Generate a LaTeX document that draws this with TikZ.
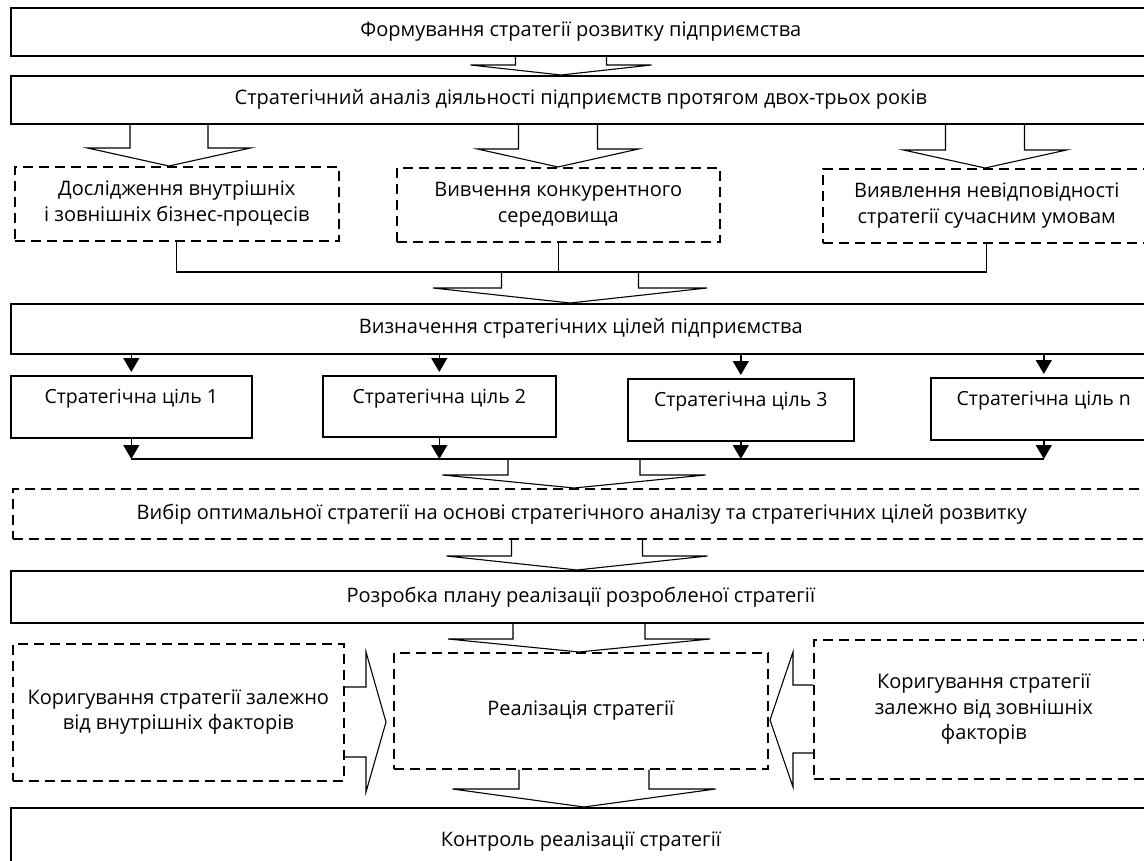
\documentclass[tikz,border=0pt]{standalone}
\usepackage{fontspec}
\setmainfont{Open Sans}
\usepackage{tikz}
\usetikzlibrary{positioning, arrows.meta, calc}

% hollow block arrow going down from #1 to #2
% #3 centre x, #4 half shaft, #5 half head, #6 head length
\newcommand{\fatarrow}[6]{%
  \draw[fatline] let \p1=(#1), \p2=(#2) in
    (#3pt-#4pt,\y1) -- (#3pt-#4pt,\y2+#6pt) -- (#3pt-#5pt,\y2+#6pt) -- (#3pt,\y2)
    -- (#3pt+#5pt,\y2+#6pt) -- (#3pt+#4pt,\y2+#6pt) -- (#3pt+#4pt,\y1);}

\begin{document}
\begin{tikzpicture}[x=1pt, y=-1pt,
    solidbox/.style={draw, line width=1.6pt, anchor=north west, inner sep=0pt, align=center,
      font=\fontsize{20}{25.5}\selectfont},
    dashbox/.style={solidbox, line width=1.6pt, dash pattern=on 10pt off 6pt},
    goalbox/.style={solidbox, font=\fontsize{19.5}{24}\selectfont, text height=14pt, text depth=20pt},
    fatline/.style={line width=1.1pt, line join=miter},
    joinline/.style={line width=1.3pt},
    thinarrow/.style={line width=1.4pt, -{Triangle[width=16pt, length=14pt]}}]
    \useasboundingbox (0,0) rectangle (1144,861);
    \clip (0,0) rectangle (1144,861);

    \node[solidbox, minimum width=1140pt, minimum height=48pt] (form) at (10,7) {Формування стратегії розвитку підприємства};
    \node[solidbox, minimum width=1140pt, minimum height=48pt] (anal) at (10,75) {Стратегічний аналіз діяльності підприємств протягом двох-трьох років};

    \node[dashbox, minimum width=324pt, minimum height=74pt] (study) at (14,166) {Дослідження внутрішніх\\і зовнішніх бізнес-процесів};
    \node[dashbox, minimum width=323pt, minimum height=74pt] (compet) at (396,167) {Вивчення конкурентного\\середовища};
    \node[dashbox, minimum width=328pt, minimum height=74pt] (mismatch) at (822,168) {Виявлення невідповідності\\стратегії сучасним умовам};

    \node[solidbox, minimum width=1140pt, minimum height=50pt] (goals) at (10,303) {Визначення стратегічних цілей підприємства};

    \node[goalbox, minimum width=241pt, minimum height=62pt] (goal-1) at (10,375) {Стратегічна ціль 1};
    \node[goalbox, minimum width=233pt, minimum height=61pt] (goal-2) at (322,375) {Стратегічна ціль 2};
    \node[goalbox, minimum width=226pt, minimum height=62pt] (goal-3) at (627,378) {Стратегічна ціль 3};
    \node[goalbox, minimum width=226pt, minimum height=62pt] (goal-n) at (930,377) {Стратегічна ціль n};

    \node[dashbox, minimum width=1138pt, minimum height=50pt] (choice) at (12,488) {Вибір оптимальної стратегії на основі стратегічного аналізу та стратегічних цілей розвитку};
    \node[solidbox, minimum width=1140pt, minimum height=52pt] (plan) at (10,570) {Розробка плану реалізації розробленої стратегії};

    \node[dashbox, minimum width=331pt, minimum height=137pt] (inner-fix) at (12,643) {Коригування стратегії залежно\\від внутрішніх факторів};
    \node[dashbox, minimum width=374pt, minimum height=116pt] (realise) at (393,652) {Реалізація стратегії};
    \node[dashbox, minimum width=340pt, minimum height=139pt] (outer-fix) at (813,639) {Коригування стратегії\\залежно від зовнішніх\\факторів};

    \node[solidbox, minimum width=1140pt, minimum height=68pt] (control) at (10,807) {Контроль реалізації стратегії};

    % block arrows
    \fatarrow{form.south}{anal.north}{561}{45.5}{90.5}{10}
    \fatarrow{anal.south}{study.north}{169}{39}{81.5}{18}
    \fatarrow{anal.south}{compet.north}{558}{39.5}{80.5}{18}
    \fatarrow{anal.south}{mismatch.north}{985}{39.5}{81.5}{18}

    \coordinate (join-a) at (study.south |- 0,272);
    \coordinate (join-c) at (mismatch.south |- 0,272);
    \draw[joinline] (study.south) -- (join-a) -- (join-c) -- (mismatch.south);
    \draw[joinline] (compet.south) -- (compet.south |- join-a);
    \fatarrow{join-a}{goals.north}{570}{68.5}{137}{15}

    \draw[thinarrow] (goals.south -| goal-1.north) -- ([yshift=3pt]goal-1.north);
    \draw[thinarrow] (goals.south -| goal-2.north) -- ([yshift=3pt]goal-2.north);
    \draw[thinarrow] (goals.south -| goal-3.north) -- ([yshift=3pt]goal-3.north);
    \draw[thinarrow] (goals.south -| goal-n.north) -- ([yshift=3pt]goal-n.north);

    \coordinate (sum-1) at (goal-1.south |- 0,459);
    \coordinate (sum-n) at (goal-n.south |- 0,459);
    \draw[thinarrow] (goal-1.south) -- (sum-1);
    \draw[thinarrow] (goal-2.south) -- (goal-2.south |- sum-1);
    \draw[thinarrow] (goal-3.south) -- (goal-3.south |- sum-1);
    \draw[thinarrow] (goal-n.south) -- (sum-n);
    \draw[joinline] (sum-1) -- (sum-n);

    \fatarrow{sum-1}{choice.north}{574}{66}{131.5}{13}
    \fatarrow{choice.south}{plan.north}{577}{65.5}{130.5}{14}
    \fatarrow{plan.south}{realise.north}{579}{66}{131}{13}
    \fatarrow{realise.south}{control.north}{584}{65}{131.5}{18}

    % side arrows
    \draw[fatline] (inner-fix.east |- 0,687) -- (366,687) -- (366,652) -- (386,722)
      -- (366,792) -- (366,757) -- (inner-fix.east |- 0,757);
    \draw[fatline] (outer-fix.west |- 0,685) -- (793,685) -- (793,652) -- (770,720)
      -- (793,787) -- (793,753) -- (outer-fix.west |- 0,753);
\end{tikzpicture}
\end{document}
